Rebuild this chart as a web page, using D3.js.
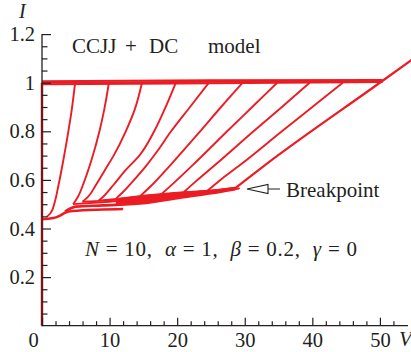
<!DOCTYPE html>
<html>
<head>
<meta charset="utf-8">
<script src="https://cdn.jsdelivr.net/npm/d3@7/dist/d3.min.js"></script>
<style>
  body { margin: 0; background: #fff; }
  svg { display: block; }
  text { font-family: "Liberation Serif", "DejaVu Serif", serif; fill: #231f20; }
</style>
</head>
<body>
<div id="chart"></div>
<script>
// tick values
const xTicks = [0, 10, 20, 30, 40, 50];
const xMinor = [2, 4, 6, 8, 12, 14, 16, 18, 22, 24, 26, 28, 32, 34, 36, 38, 42, 44, 46, 48, 52];
const yTicks = [0.2, 0.4, 0.6, 0.8, 1, 1.2];
const yMinor = [0.05, 0.1, 0.15, 0.25, 0.3, 0.35, 0.45, 0.5, 0.55, 0.65, 0.7, 0.75, 0.85, 0.9, 0.95, 1.05, 1.1, 1.15];

// zero-voltage (superconducting) branch [V, I]
const zeroBranch = [[0, 0], [0, 1.0]];

// resistive branches, k = 1..10 junctions switched, read top -> bottom [V, I]
const branches = [
  [[4.9, 1.0], [4.4, 0.888], [3.9, 0.8], [3.15, 0.68], [2.4, 0.573], [1.9, 0.51], [1.3, 0.465], [0.7, 0.448]],
  [[9.9, 1.0], [9.2, 0.888], [8.5, 0.8], [7.3, 0.68], [6.2, 0.59], [5.3, 0.53], [4.6, 0.5]],
  [[14.8, 1.0], [13.7, 0.888], [12.4, 0.8], [10.6, 0.7], [9.3, 0.64], [8.0, 0.58], [6.8, 0.53], [6.0, 0.51]],
  [[19.8, 1.0], [18.1, 0.888], [16.6, 0.8], [14.4, 0.7], [12.4, 0.641], [10.6, 0.58], [9.2, 0.535], [8.4, 0.515]],
  [[24.7, 1.0], [21.9, 0.9], [19.1, 0.8], [17.1, 0.72], [15.5, 0.661], [13.3, 0.59], [11.8, 0.545], [11.0, 0.525]],
  [[29.7, 1.0], [26.5, 0.9], [23.4, 0.8], [19.0, 0.661], [16.5, 0.585], [14.6, 0.535]],
  [[34.8, 1.0], [31.1, 0.9], [27.4, 0.8], [22.3, 0.661], [19.6, 0.59], [17.6, 0.54]],
  [[39.6, 1.0], [35.5, 0.9], [31.3, 0.8], [25.6, 0.661], [22.8, 0.595], [21.0, 0.55]],
  [[44.5, 1.0], [40.0, 0.9], [35.5, 0.8], [29.3, 0.661], [26.4, 0.6], [24.5, 0.556]],
  [[55.0, 1.1], [50.4, 1.008], [33.0, 0.661], [28.6, 0.566]]
];

// switching jumps at I ~ 1 (to the all-resistive branch)
const switchLines = [
  [[0, 0.994], [20, 0.997], [50.4, 1.003]],
  [[0, 1.0], [20, 1.003], [50.4, 1.008]],
  [[0, 1.006], [25, 1.01], [50.4, 1.011]]
];

// retrapping jumps near the bottom
const returnLines = [
  [[0, 0.438], [1.5, 0.442], [2.6, 0.452], [3.4, 0.465], [4.5, 0.472], [9, 0.478], [12, 0.48]],
  [[3.4, 0.47], [5, 0.49], [9, 0.495], [15.4, 0.505], [20, 0.525], [25, 0.545], [28.6, 0.562]],
  [[4.6, 0.5], [10, 0.51], [15, 0.52], [20, 0.535], [25, 0.552], [28.6, 0.566]],
  [[6, 0.51], [12, 0.52], [18, 0.535], [24, 0.55], [28.6, 0.568]],
  [[8.4, 0.515], [14, 0.53], [20, 0.545], [25, 0.556], [28.6, 0.568]]
];

// dense overlap of retrapping jumps near the breakpoint
const bandTop = [[11, 0.522], [15, 0.537], [20, 0.549], [25, 0.558], [29.2, 0.567]];
const bandBottom = [[11, 0.5], [15, 0.507], [20, 0.526], [25, 0.546], [29.2, 0.563]];

const W = 411, H = 352;
const red = '#ec1c24', ink = '#231f20';

const svg = d3.select('#chart').append('svg')
  .attr('width', W)
  .attr('height', H);

const x = d3.scaleLinear().domain([0, 54.6]).range([42, 411]);
const y = d3.scaleLinear().domain([0, 1.2]).range([325.7, 34.1]);

svg.append('clipPath').attr('id', 'plot')
  .append('rect').attr('x', 40).attr('y', 0).attr('width', W - 40).attr('height', 326);

const line = d3.line().x(d => x(d[0])).y(d => y(d[1]));
const curve = d3.line().x(d => x(d[0])).y(d => y(d[1])).curve(d3.curveMonotoneY);
const smooth = d3.line().x(d => x(d[0])).y(d => y(d[1])).curve(d3.curveMonotoneX);

const g = svg.append('g').attr('clip-path', 'url(#plot)');

g.append('path').datum(zeroBranch)
  .attr('d', line).attr('fill', 'none').attr('stroke', red).attr('stroke-width', 2.5);

g.selectAll('.sw').data(switchLines).enter().append('path')
  .attr('d', line).attr('fill', 'none').attr('stroke', red).attr('stroke-width', 2);

g.append('path')
  .datum(bandTop.concat(bandBottom.slice().reverse()))
  .attr('d', d => line(d) + 'Z')
  .attr('fill', red).attr('stroke', red).attr('stroke-width', 1);

g.selectAll('.ret').data(returnLines).enter().append('path')
  .attr('d', smooth)
  .attr('fill', 'none').attr('stroke', red).attr('stroke-width', (d, i) => i < 2 ? 2.6 : 1.8);

g.selectAll('.br').data(branches).enter().append('path')
  .attr('d', curve).attr('fill', 'none').attr('stroke', red)
  .attr('stroke-width', (d, i) => i === 9 ? 2.2 : 1.9);

// axes
const xAxis = svg.append('g').attr('transform', `translate(0,${y(0)})`)
  .call(d3.axisBottom(x).tickValues(xTicks).tickSize(-8).tickPadding(7));
const xMin = svg.append('g').attr('transform', `translate(0,${y(0)})`)
  .call(d3.axisBottom(x).tickValues(xMinor).tickSize(-4.5).tickFormat(''));
const yAxis = svg.append('g').attr('transform', `translate(${x(0)},0)`)
  .call(d3.axisLeft(y).tickValues(yTicks).tickSize(-9).tickPadding(7).tickFormat(d3.format('')));
const yMin = svg.append('g').attr('transform', `translate(${x(0)},0)`)
  .call(d3.axisLeft(y).tickValues(yMinor).tickSize(-5.5).tickFormat(''));

[xAxis, xMin, yAxis, yMin].forEach(a => {
  a.select('.domain').remove();
  a.selectAll('line').attr('stroke', ink).attr('stroke-width', 1.2);
  a.selectAll('text').attr('font-size', 20.5).attr('fill', ink)
    .style('font-family', '"Liberation Serif", serif');
});
xAxis.selectAll('.tick').filter(d => d === 0).select('text').attr('dx', -9);

svg.append('line')
  .attr('x1', x(0)).attr('x2', 408).attr('y1', y(0)).attr('y2', y(0))
  .attr('stroke', ink).attr('stroke-width', 1.3);
svg.append('line')
  .attr('x1', x(0)).attr('x2', x(0)).attr('y1', y(0) + 0.6).attr('y2', y(1.2))
  .attr('stroke', ink).attr('stroke-width', 1.3);

// axis names
svg.append('text').attr('x', 19).attr('y', 18).attr('font-size', 20)
  .style('font-style', 'italic').text('I');
svg.append('text').attr('x', 399).attr('y', 346).attr('font-size', 21)
  .style('font-style', 'italic').text('V');

// annotations
const title = svg.append('g').attr('font-size', 21);
title.append('text').attr('x', 72).attr('y', 53).text('CCJJ');
title.append('text').attr('x', 125).attr('y', 53).text('+');
title.append('text').attr('x', 149).attr('y', 53).text('DC');
title.append('text').attr('x', 208).attr('y', 53).text('model');

const eq = svg.append('text').attr('x', 85).attr('y', 256).attr('font-size', 21)
  .attr('xml:space', 'preserve').attr('textLength', 272).attr('lengthAdjust', 'spacing');
[['N', true], [' = 10,  ', false], ['\u03b1', true], [' = 1,  ', false],
 ['\u03b2', true], [' = 0.2,  ', false], ['\u03b3', true], [' = 0', false]]
  .forEach(([t, it]) => eq.append('tspan').style('font-style', it ? 'italic' : 'normal').text(t));

svg.append('text').attr('x', 286).attr('y', 197).attr('font-size', 21).text('Breakpoint');
svg.append('path')
  .attr('d', 'M247,189 L268,184.5 L268,193.5 Z M268,189 L280,189')
  .attr('fill', 'none').attr('stroke', ink).attr('stroke-width', 1.1);
</script>
</body>
</html>
